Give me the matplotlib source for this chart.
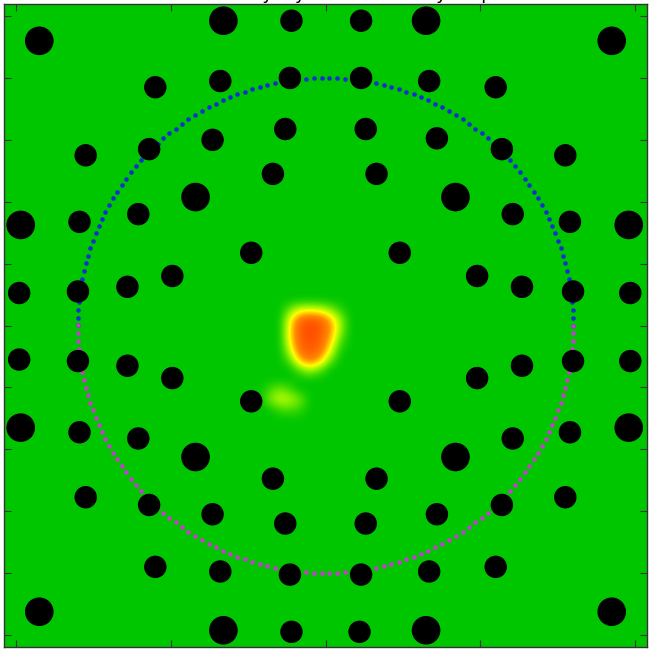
import numpy as np
import matplotlib
matplotlib.use("Agg")
import matplotlib.pyplot as plt
from matplotlib.patches import Circle
from matplotlib.colors import LinearSegmentedColormap

# ---- sensor positions (data units) ----
sensor_x = [-0.66, -0.22, 0.23, 0.65,
            -1.85, 1.85,
            -1.10, -0.68, -0.23, 0.23, 0.67, 1.10,
            -1.55, -1.14, -0.73, -0.26, 0.26, 0.72, 1.14, 1.55,
            -0.34, 0.33, -0.84, 0.84, -1.21, 1.21, -1.97, -1.59, 1.58, 1.96,
            -0.48, 0.48, -0.99, 0.98, -1.98, -1.60, -1.28, 1.27, 1.60, 1.97,
            -1.98, -1.60, -1.28, 1.27, 1.60, 1.97, -0.99, 0.98, -0.48, 0.48,
            -1.97, -1.59, -1.21, -0.84, 0.84, 1.21, 1.58, 1.96, -0.34, 0.33,
            -1.55, -1.14, -0.73, -0.26, 0.26, 0.72, 1.14, 1.55,
            -1.10, -0.68, -0.23, 0.23, 0.67, 1.10,
            -1.85, 1.85,
            -0.66, -0.22, 0.22, 0.65]
sensor_y = [1.97, 1.97, 1.97, 1.97,
            1.84, 1.84,
            1.54, 1.58, 1.60, 1.60, 1.58, 1.54,
            1.10, 1.14, 1.20, 1.27, 1.27, 1.21, 1.14, 1.10,
            0.98, 0.98, 0.83, 0.83, 0.72, 0.72, 0.65, 0.67, 0.67, 0.65,
            0.47, 0.47, 0.32, 0.32, 0.21, 0.22, 0.25, 0.25, 0.22, 0.21,
            -0.22, -0.23, -0.26, -0.26, -0.23, -0.23, -0.34, -0.34, -0.49, -0.49,
            -0.66, -0.69, -0.73, -0.85, -0.85, -0.73, -0.69, -0.66, -0.99, -0.99,
            -1.11, -1.16, -1.22, -1.28, -1.28, -1.22, -1.16, -1.11,
            -1.56, -1.59, -1.61, -1.61, -1.59, -1.56,
            -1.85, -1.85,
            -1.97, -1.98, -1.98, -1.97]
sensor_big = [1, 0, 0, 1,
              1, 1,
              0, 0, 0, 0, 0, 0,
              0, 0, 0, 0, 0, 0, 0, 0,
              0, 0, 1, 1, 0, 0, 1, 0, 0, 1,
              0, 0, 0, 0, 0, 0, 0, 0, 0, 0,
              0, 0, 0, 0, 0, 0, 0, 0, 0, 0,
              1, 0, 0, 1, 1, 0, 0, 1, 0, 0,
              0, 0, 0, 0, 0, 0, 0, 0,
              0, 0, 0, 0, 0, 0,
              1, 1,
              1, 0, 0, 1]

# ---- head outline ----
head_radius = 1.6
n_outline = 100

# ---- activity map block (coarse grid, rows top->bottom) ----
activity_block = np.array([
    # 240  250  260  270  280  290  300   310   320   330   340   350  360  370
    [0.0, 0.0, 0.0, 0.0, 0.0, 0.0, 0.0, 0.0, 0.0, 0.0, 0.0, 0.0, 0.0, 0.0],  # 290
    [0.0, 0.0, 0.0, 0.0, 0.0, 0.0, 0.0, 0.0, 0.0, 0.0, 0.0, 0.0, 0.0, 0.0],  # 300
    [0.0, 0.0, 0.0, 0.0, 0.0, 0.20, 0.40, 0.42, 0.38, 0.25, 0.08, 0.0, 0.0, 0.0],  # 310
    [0.0, 0.0, 0.0, 0.0, 0.0, 0.45, 0.85, 0.95, 0.90, 0.65, 0.28, 0.0, 0.0, 0.0],  # 320
    [0.0, 0.0, 0.0, 0.0, 0.0, 0.50, 0.92, 1.00, 0.92, 0.72, 0.28, 0.0, 0.0, 0.0],  # 330
    [0.0, 0.0, 0.0, 0.0, 0.0, 0.48, 0.90, 0.95, 0.90, 0.62, 0.15, 0.0, 0.0, 0.0],  # 340
    [0.0, 0.0, 0.0, 0.0, 0.0, 0.35, 0.85, 0.92, 0.85, 0.45, 0.05, 0.0, 0.0, 0.0],  # 350
    [0.0, 0.0, 0.0, 0.0, 0.0, 0.15, 0.60, 0.80, 0.62, 0.20, 0.0, 0.0, 0.0, 0.0],   # 360
    [0.0, 0.0, 0.0, 0.0, 0.0, 0.0, 0.15, 0.30, 0.15, 0.0, 0.0, 0.0, 0.0, 0.0],     # 370
    [0.0, 0.0, 0.0, 0.0, 0.0, 0.0, 0.0, 0.0, 0.0, 0.0, 0.0, 0.0, 0.0, 0.0],        # 380
    [0.0, 0.0, 0.0, 0.12, 0.22, 0.12, 0.0, 0.0, 0.0, 0.0, 0.0, 0.0, 0.0, 0.0],     # 390
    [0.0, 0.0, 0.0, 0.22, 0.36, 0.32, 0.20, 0.0, 0.0, 0.0, 0.0, 0.0, 0.0, 0.0],    # 400
    [0.0, 0.0, 0.0, 0.0, 0.10, 0.12, 0.08, 0.0, 0.0, 0.0, 0.0, 0.0, 0.0, 0.0],     # 410
    [0.0, 0.0, 0.0, 0.0, 0.0, 0.0, 0.0, 0.0, 0.0, 0.0, 0.0, 0.0, 0.0, 0.0],        # 420
    [0.0, 0.0, 0.0, 0.0, 0.0, 0.0, 0.0, 0.0, 0.0, 0.0, 0.0, 0.0, 0.0, 0.0],        # 430
])
full_cells = 66            # full map grid size (covers whole axes)
block_row, block_col = 29, 24
map_extent = [-2.1288, 2.1224, -2.1224, 2.1288]

x_ticks = [-2, -1, 0, 1, 2]
y_ticks = [-2.0, -1.6, -1.2, -0.8, -0.4, 0.0, 0.4, 0.8, 1.2, 1.6, 2.0]
lim = 2.078

green = (0.0, 0.78, 0.0)
cmap = LinearSegmentedColormap.from_list(
    "act", [(0.0, green), (0.25, (0.55, 0.95, 0.0)), (0.45, (1.0, 1.0, 0.0)),
            (0.7, (1.0, 0.55, 0.0)), (1.0, (1.0, 0.28, 0.0))])

activity = np.zeros((full_cells, full_cells))
nr, nc = activity_block.shape
activity[block_row:block_row + nr, block_col:block_col + nc] = activity_block

fig = plt.figure(figsize=(6.51, 6.51), dpi=100)
ax = fig.add_axes([3 / 651, 4 / 651, 645 / 651, 643 / 651])
ax.set_facecolor(green)

ax.imshow(activity, cmap=cmap, vmin=0, vmax=1, interpolation="bicubic",
          extent=map_extent, origin="upper", zorder=1)

t_top = np.linspace(0, np.pi, n_outline)
t_bot = np.linspace(np.pi, 2 * np.pi, n_outline)
ax.plot(head_radius * np.cos(t_top), head_radius * np.sin(t_top), ls="none",
        marker="o", ms=3.3, mec="none", color="#1030d0", zorder=2)
ax.plot(head_radius * np.cos(t_bot), head_radius * np.sin(t_bot), ls="none",
        marker="o", ms=3.3, mec="none", color="#c040c8", zorder=2)

for x, y, b in zip(sensor_x, sensor_y, sensor_big):
    r = 0.088 if b else 0.068
    ax.add_patch(Circle((x, y), r, color="black", zorder=3))

ax.set_xlim(-lim, lim)
ax.set_ylim(-lim, lim)
ax.set_xticks(x_ticks)
ax.set_yticks(y_ticks)
ax.set_xticklabels([])
ax.set_yticklabels([])
ax.tick_params(direction="in", length=5, width=0.8, color="#333333",
               top=True, right=True)
for s in ax.spines.values():
    s.set_color("#333333")
    s.set_linewidth(1.0)
    s.set_zorder(5)

fig.text(0.5, 1.002, "Sensor array layout and activity map", ha="center",
         va="baseline", fontsize=13)

fig.savefig("out.png", dpi=100)
